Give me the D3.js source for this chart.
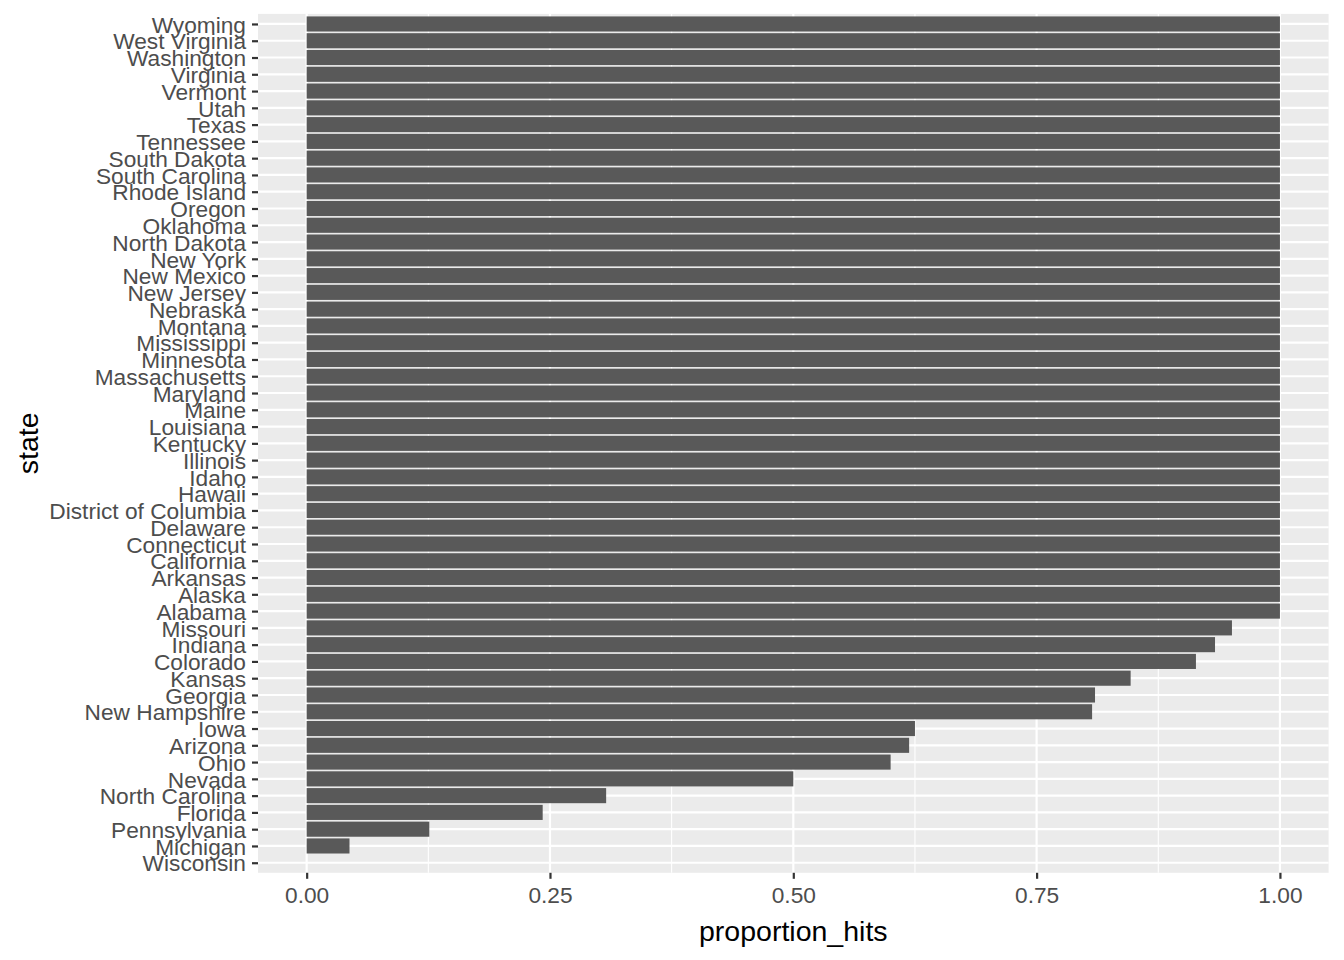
<!DOCTYPE html>
<html><head><meta charset="utf-8">
<script src="https://cdn.jsdelivr.net/npm/d3@7"></script>
<style>body{margin:0;background:#fff}svg{display:block}</style>
</head><body>
<svg id="chart" width="1344" height="960"></svg>
<script>
const states = ["Wyoming","West Virginia","Washington","Virginia","Vermont","Utah","Texas","Tennessee","South Dakota","South Carolina","Rhode Island","Oregon","Oklahoma","North Dakota","New York","New Mexico","New Jersey","Nebraska","Montana","Mississippi","Minnesota","Massachusetts","Maryland","Maine","Louisiana","Kentucky","Illinois","Idaho","Hawaii","District of Columbia","Delaware","Connecticut","California","Arkansas","Alaska","Alabama","Missouri","Indiana","Colorado","Kansas","Georgia","New Hampshire","Iowa","Arizona","Ohio","Nevada","North Carolina","Florida","Pennsylvania","Michigan","Wisconsin"];
const proportionHits = [1,1,1,1,1,1,1,1,1,1,1,1,1,1,1,1,1,1,1,1,1,1,1,1,1,1,1,1,1,1,1,1,1,1,1,1,0.9507,0.9333,0.9137,0.8466,0.8100,0.8070,0.6250,0.6190,0.6000,0.5000,0.3077,0.2425,0.1260,0.0440,0];
const xTicks = [0,0.25,0.5,0.75,1];
const xMinor = [0.125,0.375,0.625,0.875];

const svg = d3.select("#chart");
const L = 258, R = 1328.6, T = 13.9, B = 872.8;
const x = d3.scaleLinear().domain([-0.05,1.05]).range([L,R]);
const n = states.length;
const step = (B - T) / (n - 1 + 1.2);
const y = d3.scalePoint().domain(states).range([T + 0.6*step, B - 0.6*step]);
const barH = step * 0.9;
const font = "'Liberation Sans', Arial, sans-serif";

svg.append("rect").attr("x",L).attr("y",T).attr("width",R-L).attr("height",B-T).attr("fill","#EBEBEB");
const g = svg.append("g");
g.selectAll("line.minor").data(xMinor).join("line")
  .attr("x1",d=>x(d)).attr("x2",d=>x(d)).attr("y1",T).attr("y2",B)
  .attr("stroke","#fff").attr("stroke-width",1.1);
g.selectAll("line.majx").data(xTicks).join("line")
  .attr("x1",d=>x(d)).attr("x2",d=>x(d)).attr("y1",T).attr("y2",B)
  .attr("stroke","#fff").attr("stroke-width",2.2);
g.selectAll("line.majy").data(states).join("line")
  .attr("x1",L).attr("x2",R).attr("y1",d=>y(d)).attr("y2",d=>y(d))
  .attr("stroke","#fff").attr("stroke-width",2.2);

svg.append("g").selectAll("rect").data(states).join("rect")
  .attr("x",x(0)).attr("y",d=>y(d)-barH/2)
  .attr("width",(d,i)=>x(proportionHits[i])-x(0)).attr("height",barH)
  .attr("fill","#595959");

// y axis
const yAxis = svg.append("g").attr("transform",`translate(${L},0)`)
  .call(d3.axisLeft(y).tickSize(6).tickPadding(6));
yAxis.select(".domain").remove();
yAxis.selectAll(".tick line").attr("stroke","#333333").attr("stroke-width",2.2);
yAxis.selectAll(".tick text").attr("fill","#4D4D4D").attr("font-family",font).attr("font-size",22.7).attr("dy","0.36em");

// x axis
const xAxis = svg.append("g").attr("transform",`translate(0,${B})`)
  .call(d3.axisBottom(x).tickValues(xTicks).tickFormat(d3.format(".2f")).tickSize(6).tickPadding(6));
xAxis.select(".domain").remove();
xAxis.selectAll(".tick line").attr("stroke","#333333").attr("stroke-width",2.2);
xAxis.selectAll(".tick text").attr("fill","#4D4D4D").attr("font-family",font).attr("font-size",22.7).attr("dy","0.8em");

svg.append("text").attr("x",(L+R)/2).attr("y",941).attr("text-anchor","middle")
  .attr("font-family",font).attr("font-size",28.5).attr("fill","#000").text("proportion_hits");
svg.append("text").attr("transform",`translate(38,${(T+B)/2}) rotate(-90)`).attr("text-anchor","middle")
  .attr("font-family",font).attr("font-size",28.5).attr("fill","#000").text("state");
</script>
</body></html>
